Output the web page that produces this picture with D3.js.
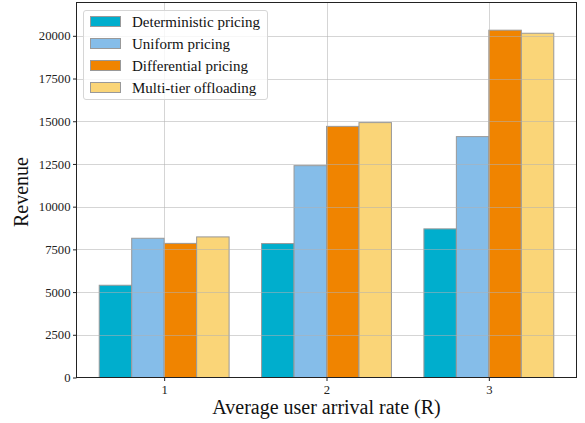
<!DOCTYPE html>
<html>
<head>
<meta charset="utf-8">
<script src="https://cdn.jsdelivr.net/npm/d3@7"></script>
<style>
  html, body { margin: 0; padding: 0; background: #fff; }
  svg { display: block; }
  svg text { font-family: "Liberation Serif", "Times New Roman", serif !important; }
</style>
</head>
<body>
<svg id="chart" width="585" height="423"></svg>
<script>
const categories = [1, 2, 3];
const seriesNames = ["Deterministic pricing", "Uniform pricing", "Differential pricing", "Multi-tier offloading"];
const deterministic = [5400, 7840, 8700];
const uniform = [8150, 12400, 14100];
const differential = [7850, 14700, 20330];
const multiTier = [8230, 14920, 20150];
const yTicks = [0, 2500, 5000, 7500, 10000, 12500, 15000, 17500, 20000];
const colors = ["#00aecd", "#85bde9", "#f08400", "#fad578"];

const series = [deterministic, uniform, differential, multiTier];

const svg = d3.select("#chart");
const m = { left: 76.5, right: 576.5, top: 2.5, bottom: 377.5 };

const x = d3.scaleLinear().domain([0.46, 3.54]).range([m.left, m.right]);
const y = d3.scaleLinear().domain([0, 21950]).range([m.bottom, m.top]);
const barW = 0.2;

// bars
series.forEach((vals, si) => {
  svg.append("g").selectAll("rect").data(vals).join("rect")
    .attr("x", (d, i) => x(categories[i] + (si - 1.5) * barW - barW / 2))
    .attr("width", (d, i) => x(categories[i] + barW) - x(categories[i]))
    .attr("y", d => y(d))
    .attr("height", d => y(0) - y(d))
    .attr("fill", colors[si])
    .attr("stroke", "#999999")
    .attr("stroke-width", 1);
});

// grid (drawn above bars)
const grid = svg.append("g").attr("stroke", "#b0b0b0").attr("stroke-opacity", 0.6).attr("stroke-width", 0.9);
grid.selectAll("line.h").data(yTicks.slice(1)).join("line")
  .attr("x1", m.left).attr("x2", m.right)
  .attr("y1", d => Math.round(y(d)) + 0.5).attr("y2", d => Math.round(y(d)) + 0.5);
grid.selectAll("line.v").data(categories).join("line")
  .attr("y1", m.top).attr("y2", m.bottom)
  .attr("x1", d => Math.round(x(d)) + 0.5).attr("x2", d => Math.round(x(d)) + 0.5);

// axes
const yAxis = d3.axisLeft(y).tickValues(yTicks).tickSize(3.5).tickPadding(2.5).tickFormat(d3.format("d"));
const gy = svg.append("g").attr("transform", `translate(${m.left},0)`).call(yAxis);
gy.select(".domain").remove();
gy.selectAll("text").attr("font-size", 12.7).attr("fill", "#222");
gy.selectAll("line").attr("stroke", "#222");

const xAxis = d3.axisBottom(x).tickValues(categories).tickSize(3.5).tickPadding(4).tickFormat(d3.format("d"));
const gx = svg.append("g").attr("transform", `translate(0,${m.bottom})`).call(xAxis);
gx.select(".domain").remove();
gx.selectAll("text").attr("font-size", 12.7).attr("fill", "#222");
gx.selectAll("line").attr("stroke", "#222");

// frame
svg.append("rect").attr("x", m.left).attr("y", m.top)
  .attr("width", m.right - m.left).attr("height", m.bottom - m.top)
  .attr("fill", "none").attr("stroke", "#222").attr("stroke-width", 1);

// labels
svg.append("text").attr("x", 326.5).attr("y", 414)
  .attr("text-anchor", "middle").attr("font-size", 20).attr("fill", "#111")
  .text("Average user arrival rate (R)");
svg.append("text").attr("transform", `translate(28,192) rotate(-90)`)
  .attr("text-anchor", "middle").attr("font-size", 20).attr("fill", "#111")
  .text("Revenue");

// legend
const lg = svg.append("g");
lg.append("rect").attr("x", 83.5).attr("y", 10.5).attr("width", 184).attr("height", 89)
  .attr("rx", 2.5).attr("fill", "#fff").attr("fill-opacity", 0.8)
  .attr("stroke", "#d6d6d6").attr("stroke-width", 1);
seriesNames.forEach((name, i) => {
  const cy = 21.5 + i * 22;
  lg.append("rect").attr("x", 90.5).attr("y", cy - 5).attr("width", 30).attr("height", 10)
    .attr("fill", colors[i]).attr("stroke", "#999999").attr("stroke-width", 1);
  lg.append("text").attr("x", 132).attr("y", cy + 5).attr("font-size", 15).attr("fill", "#111").text(name);
});
</script>
</body>
</html>
